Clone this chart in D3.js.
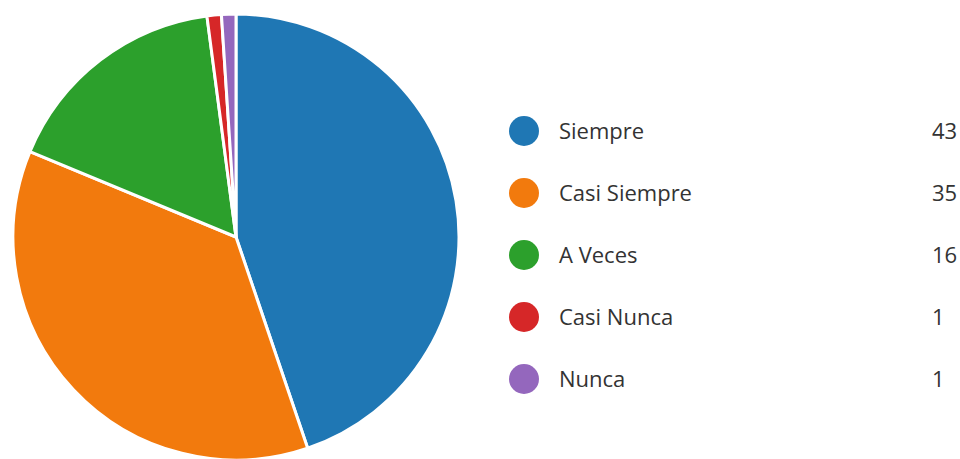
<!DOCTYPE html>
<html>
<head>
<meta charset="utf-8">
<script src="https://cdn.jsdelivr.net/npm/d3@7"></script>
<style>
  html, body { margin: 0; padding: 0; background: #fff; }
  svg { display: block; }
</style>
</head>
<body>
<svg id="chart" width="960" height="459"></svg>
<script>
// Survey answers and their counts
const categories = ["Siempre", "Casi Siempre", "A Veces", "Casi Nunca", "Nunca"];
const counts = [43, 35, 16, 1, 1];
const colors = ["#1f77b4", "#f27a0d", "#2ca02c", "#d62728", "#9467bd"];

const svg = d3.select("#chart");

const cx = 236, cy = 237, radius = 223;

const data = categories.map((c, i) => ({ name: c, value: counts[i] }));

const color = d3.scaleOrdinal().domain(categories).range(colors);

const pie = d3.pie().value(d => d.value).sort(null).startAngle(0).endAngle(2 * Math.PI);
const arc = d3.arc().innerRadius(0).outerRadius(radius);

svg.append("g")
  .attr("transform", `translate(${cx},${cy})`)
  .selectAll("path")
  .data(pie(data))
  .join("path")
  .attr("d", arc)
  .attr("fill", d => color(d.data.name))
  .attr("stroke", "#fff")
  .attr("stroke-width", 3)
  .attr("stroke-linejoin", "round");

// Legend with counts
const rowY = d3.scalePoint().domain(categories).range([131, 379]);

const legend = svg.append("g")
  .selectAll("g")
  .data(data)
  .join("g")
  .attr("transform", d => `translate(0,${rowY(d.name)})`);

legend.append("circle")
  .attr("cx", 524)
  .attr("cy", 0)
  .attr("r", 15)
  .attr("fill", d => color(d.name));

legend.append("text")
  .attr("x", 559)
  .attr("y", 0)
  .attr("dy", "0.35em")
  .attr("font-family", "'Open Sans', 'Noto Sans', sans-serif")
  .attr("font-size", 22)
  .attr("fill", "#333")
  .text(d => d.name);

legend.append("text")
  .attr("x", 932)
  .attr("y", 0)
  .attr("dy", "0.35em")
  .attr("font-family", "'Open Sans', 'Noto Sans', sans-serif")
  .attr("font-size", 22)
  .attr("fill", "#333")
  .text(d => d.value);
</script>
</body>
</html>
